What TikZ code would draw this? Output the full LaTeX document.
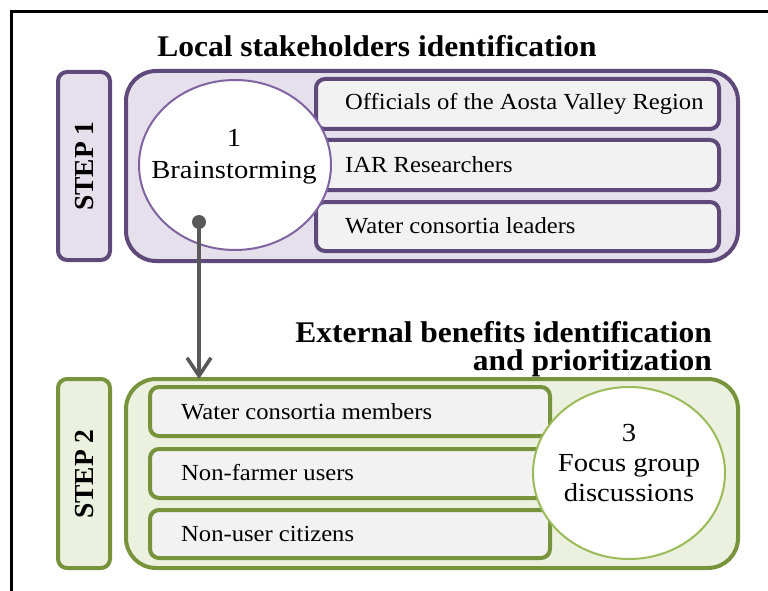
\documentclass[tikz,border=0pt]{standalone}
\usepackage{fontspec}
\setmainfont{Liberation Serif}
\newfontfamily\headfont[FakeStretch=1.05]{Liberation Serif}
\newfontfamily\itemfont[FakeStretch=1.07]{Liberation Serif}
\newfontfamily\ovalfont[FakeStretch=1.1]{Liberation Serif}
\usetikzlibrary{shapes.geometric,arrows.meta}

\definecolor{purpleD}{HTML}{5F497A}
\definecolor{purpleL}{HTML}{E5E0EC}
\definecolor{purpleM}{HTML}{8064A2}
\definecolor{greenD}{HTML}{77933C}
\definecolor{greenL}{HTML}{EBF1DE}
\definecolor{greenM}{HTML}{9BBB59}
\definecolor{boxgray}{HTML}{F2F2F2}
\definecolor{linkgray}{HTML}{595959}

\tikzset{
  titletext/.style={font=\headfont\fontsize{30}{30}\selectfont\bfseries, inner sep=0pt},
  steptext/.style={font=\fontsize{27.5}{29}\selectfont\bfseries, inner sep=0pt, rotate=90},
  itemtext/.style={font=\itemfont\fontsize{23}{25}\selectfont, inner sep=0pt, anchor=west},
  ovaltext/.style={font=\ovalfont\fontsize{26}{30}\selectfont, align=center, inner sep=0pt},
  stepbox/.style={draw, line width=4pt, rounded corners=9pt},
  groupbox/.style={draw, line width=4pt, rounded corners=30pt},
  itembox/.style={draw, line width=4pt, rounded corners=9pt, fill=boxgray},
  oval/.style={ellipse, draw, line width=2pt, fill=white, inner sep=0pt},
}

\begin{document}
\begin{tikzpicture}[x=1pt, y=-1pt]
\useasboundingbox (0,0) rectangle (768,591);

% outer frame (open at right and bottom)
\draw[line width=2.2pt] (11.5,591) -- (11.5,11.5) -- (768,11.5);

% ---------- STEP 1 ----------
\node[titletext, anchor=base] (title1) at (377,57) {Local stakeholders identification};

\draw[stepbox, draw=purpleD, fill=purpleL] (58,72) rectangle (110,260);
\node[steptext] (step1) at (85,166) {STEP 1};

\draw[groupbox, draw=purpleD, fill=purpleL] (126,71) rectangle (738,261);

\draw[itembox, draw=purpleD] (316,79) rectangle (719,129);
\draw[itembox, draw=purpleD] (316,140) rectangle (719,190);
\draw[itembox, draw=purpleD] (316,202) rectangle (719,251);
\node[itemtext] (a1) at (345,104) {Officials of the Aosta Valley Region};
\node[itemtext] (a2) at (345,165) {IAR Researchers};
\node[itemtext] (a3) at (345,226) {Water consortia leaders};

\node[oval, draw=purpleM, minimum width=192pt, minimum height=170pt] (brain) at (235,165) {};
\node[ovaltext] (braintext) at (234,157) {1\\[2pt]Brainstorming};

% ---------- STEP 2 ----------
\node[titletext, anchor=base east] (title2a) at (712,342) {External benefits identification};
\node[titletext, anchor=base east] (title2b) at (712,370) {and prioritization};

\draw[stepbox, draw=greenD, fill=greenL] (58,379) rectangle (110,568);
\node[steptext] (step2) at (85,474) {STEP 2};

\draw[groupbox, draw=greenD, fill=greenL] (126,379) rectangle (738,568);
\coordinate (box2top) at (199,377);

\draw[itembox, draw=greenD] (150,387) rectangle (550,436);
\draw[itembox, draw=greenD] (150,449) rectangle (550,498);
\draw[itembox, draw=greenD] (150,510) rectangle (550,558);
\node[itemtext] (b1) at (181,412) {Water consortia members};
\node[itemtext] (b2) at (181,473) {Non-farmer users};
\node[itemtext] (b3) at (181,534) {Non-user citizens};

\node[oval, draw=greenM, minimum width=192pt, minimum height=172pt] (focus) at (629,473) {};
\node[ovaltext] (focustext) at (629,463) {3\\Focus group\\discussions};

% ---------- link between the steps ----------
\coordinate (dot) at (199,222);
\fill[linkgray] (dot) circle (7pt);
\draw[linkgray, line width=3.6pt, -{Straight Barb[length=18pt, width=24pt]}] (dot) -- ([yshift=-2pt]box2top);

\end{tikzpicture}
\end{document}
